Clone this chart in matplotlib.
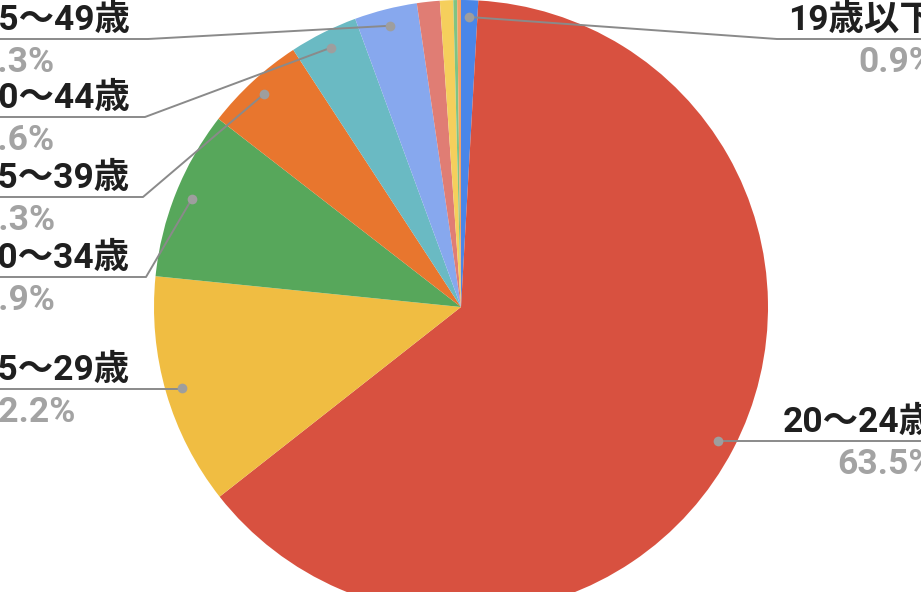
import numpy as np
import matplotlib
matplotlib.use('Agg')
import matplotlib.pyplot as plt

# data
ages = ['19歳以下', '20〜24歳', '25〜29歳', '30〜34歳', '35〜39歳', '40〜44歳',
        '45〜49歳', '50〜54歳', '55〜59歳', '60〜64歳', '65歳以上']
shares = [0.9, 63.5, 12.2, 8.9, 5.3, 3.6, 3.3, 1.2, 0.7, 0.2, 0.2]
colors = ['#4a86e8', '#d85140', '#f0bd42', '#57a75b', '#e8762e', '#6abac3',
          '#87a8ee', '#e07d74', '#f5cf5c', '#80c483', '#f3a165']

W, H = 921, 592
CX, CY, R = 461, H - 307, 307

fig = plt.figure(figsize=(W / 100, H / 100), dpi=100)
ax = fig.add_axes([0, 0, 1, 1])
wedges, _ = ax.pie(shares, colors=colors, startangle=90, counterclock=False,
                   center=(CX, CY), radius=R, frame=True,
                   wedgeprops=dict(linewidth=0))
ax.set_xlim(0, W)
ax.set_ylim(0, H)
ax.set_aspect('equal')
ax.axis('off')

font = ['Roboto', 'Noto Sans CJK JP', 'DejaVu Sans']
fs = 25.5

# label layout: index -> (side, underline y in px from top, elbow x or None)
layout = {
    0: ('right', 39, 777),
    1: ('right', 441, None),
    2: ('left', 389, None),
    3: ('left', 277, 146),
    4: ('left', 197, 143),
    5: ('left', 117, 145),
    6: ('left', 39, 148),
}

line_col = '#8a8a8a'
for i, (side, uy, ex) in layout.items():
    w = wedges[i]
    mid = np.deg2rad((w.theta1 + w.theta2) / 2)
    dx = CX + 0.945 * R * np.cos(mid)
    dy = CY + 0.945 * R * np.sin(mid)
    yline = H - uy
    end_x = -20 if side == 'left' else W + 20
    if ex is None:
        xs, ys = [dx, end_x], [yline, yline]
    else:
        xs, ys = [dx, ex, end_x], [dy, yline, yline]
    ax.plot(xs, ys, color=line_col, lw=1.4, zorder=3, solid_capstyle='round')
    ax.plot(dx, dy, 'o', color='#9e9e9e', ms=7, mec='none', zorder=4)

    tx = -22 if side == 'left' else 935
    ha = 'left' if side == 'left' else 'right'
    ax.text(tx, yline + 9, ages[i], ha=ha, va='baseline', fontsize=fs,
            fontweight='bold', color='#1f1f1f', family=font, zorder=5)
    ax.text(tx, yline - 33, f'{shares[i]:.1f}%', ha=ha, va='baseline',
            fontsize=fs, fontweight='bold', color='#a3a3a3', family=font,
            zorder=5)

fig.savefig('out.png', dpi=100)
